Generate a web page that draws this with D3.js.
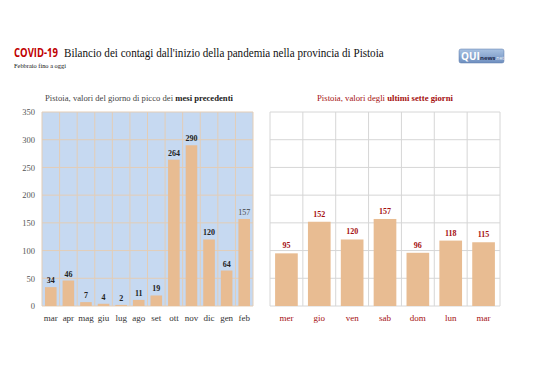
<!DOCTYPE html>
<html><head><meta charset="utf-8">
<script src="https://cdn.jsdelivr.net/npm/d3@7"></script>
<style>body{margin:0;background:#fff}svg{display:block}</style>
</head><body>
<script>
const months = ["mar","apr","mag","giu","lug","ago","set","ott","nov","dic","gen","feb"];
const monthValues = [34,46,7,4,2,11,19,264,290,120,64,157];
const days = ["mer","gio","ven","sab","dom","lun","mar"];
const dayValues = [95,152,120,157,96,118,115];
const yTicks = [0,50,100,150,200,250,300,350];

const W = 538, H = 380;
const svg = d3.select("body").append("svg").attr("width", W).attr("height", H);
const serif = "'Liberation Serif', 'DejaVu Serif', serif";
const sans = "'Open Sans', 'Liberation Sans', sans-serif";

// place a text at (x,y) horizontally scaled so its width equals w; anchor: start|middle
function fitText(parent, x, y, w, anchor){
  const t = parent.append("text").attr("x",0).attr("y",0).attr("text-anchor",anchor||"start");
  t.place = function(){
    const l = t.node().getComputedTextLength();
    const s = l>0 ? w/l : 1;
    t.attr("transform",`translate(${x},${y}) scale(${s},1)`);
    return t;
  };
  return t;
}

// Title
const t1 = fitText(svg,14,57,44).attr("font-family",sans).attr("font-weight","bold")
  .attr("font-size",12).attr("fill","#c00000").text("COVID-19"); t1.place();
const t2 = fitText(svg,64,57,320).attr("font-family",serif)
  .attr("font-size",13).attr("fill","#111").text("Bilancio dei contagi dall'inizio della pandemia nella provincia di Pistoia"); t2.place();
const t3 = fitText(svg,14,68,52).attr("font-family",serif)
  .attr("font-size",6.5).attr("fill","#111").text("Febbraio fino a oggi"); t3.place();

// Logo
const defs = svg.append("defs");
const g = defs.append("linearGradient").attr("id","lg").attr("x1",0).attr("y1",0).attr("x2",0).attr("y2",1);
g.append("stop").attr("offset","0").attr("stop-color","#a9c2e2");
g.append("stop").attr("offset","1").attr("stop-color","#6f8fbf");
svg.append("rect").attr("x",459).attr("y",49).attr("width",45).attr("height",14).attr("rx",2).attr("fill","url(#lg)").attr("stroke","#5b79a8").attr("stroke-width",0.5);
svg.append("text").attr("x",461).attr("y",60).attr("font-family",sans).attr("font-weight","bold").attr("font-size",10).attr("fill","#fff").text("QUI");
svg.append("text").attr("x",480).attr("y",59.5).attr("font-family",sans).attr("font-weight","bold").attr("font-size",6).attr("fill","#1d2b4f").text("news");
svg.append("text").attr("x",495).attr("y",59.5).attr("font-family",sans).attr("font-size",5).attr("fill","#eef3fa").text(".net");

// Shared y scale
const y = d3.scaleLinear().domain([0,350]).range([306,112]);

// ---- Left chart
const L = {x0:42, x1:253};
const xL = d3.scaleBand().domain(months).range([L.x0,L.x1]).paddingInner(0.34).paddingOuter(0.17);
const left = svg.append("g");
left.append("rect").attr("x",L.x0).attr("y",y(350)).attr("width",L.x1-L.x0).attr("height",y(0)-y(350)).attr("fill","#c6d9f1");
const step = xL.step();
left.selectAll("line.v").data(d3.range(months.length+1)).join("line")
  .attr("x1",i=>L.x0+i*step).attr("x2",i=>L.x0+i*step).attr("y1",y(350)).attr("y2",y(0))
  .attr("stroke","#e3cdb6").attr("stroke-width",1);
left.selectAll("line.h").data(yTicks).join("line")
  .attr("x1",L.x0).attr("x2",L.x1).attr("y1",d=>y(d)).attr("y2",d=>y(d))
  .attr("stroke","#e3cdb6").attr("stroke-width",1);
left.selectAll("rect.bar").data(months).join("rect").attr("class","bar")
  .attr("x",d=>xL(d)).attr("width",xL.bandwidth())
  .attr("y",(d,i)=>y(monthValues[i])).attr("height",(d,i)=>y(0)-y(monthValues[i]))
  .attr("fill","#e8bc92");
left.selectAll("text.val").data(months).join("text")
  .attr("x",d=>xL(d)+xL.bandwidth()/2).attr("y",(d,i)=>y(monthValues[i])-4)
  .attr("text-anchor","middle").attr("font-family",serif).attr("font-weight",(d,i)=>i===11?"normal":"bold").attr("font-size",8)
  .attr("fill",(d,i)=>i===11?"#444":"#222").text((d,i)=>monthValues[i]);
// axes
const yAxis = d3.axisLeft(y).tickValues(yTicks).tickSize(0).tickPadding(7);
const ya = left.append("g").attr("transform",`translate(${L.x0},0)`).call(yAxis);
ya.select(".domain").remove();
ya.selectAll("text").attr("font-family",serif).attr("font-size",8.5).attr("fill","#555");
const xAxisL = d3.axisBottom(xL).tickSize(0).tickPadding(9);
const xa = left.append("g").attr("transform",`translate(0,${y(0)})`).call(xAxisL);
xa.select(".domain").remove();
xa.selectAll("text").attr("font-family",serif).attr("font-size",9).attr("fill","#333");

const sl = fitText(left,(42+232)/2+2,101,188,"middle")
  .attr("font-family",serif).attr("font-size",8).attr("fill","#444");
sl.append("tspan").text("Pistoia, valori del giorno di picco dei ");
sl.append("tspan").attr("font-weight","bold").attr("fill","#222").text("mesi precedenti");
sl.place();

// ---- Right chart
const R = {x0:270, x1:500};
const xR = d3.scaleBand().domain(days).range([R.x0,R.x1]).paddingInner(0.31).paddingOuter(0.155);
const right = svg.append("g");
const stepR = xR.step();
right.selectAll("line.v").data(d3.range(days.length+1)).join("line")
  .attr("x1",i=>R.x0+i*stepR).attr("x2",i=>R.x0+i*stepR).attr("y1",y(350)).attr("y2",y(0))
  .attr("stroke","#d6d6d6").attr("stroke-width",1);
right.selectAll("line.h").data(yTicks).join("line")
  .attr("x1",R.x0).attr("x2",R.x1).attr("y1",d=>y(d)).attr("y2",d=>y(d))
  .attr("stroke","#d6d6d6").attr("stroke-width",1);
right.selectAll("rect.bar").data(days).join("rect").attr("class","bar")
  .attr("x",d=>xR(d)).attr("width",xR.bandwidth())
  .attr("y",(d,i)=>y(dayValues[i])).attr("height",(d,i)=>y(0)-y(dayValues[i]))
  .attr("fill","#e8bc92");
right.selectAll("text.val").data(days).join("text")
  .attr("x",d=>xR(d)+xR.bandwidth()/2).attr("y",(d,i)=>y(dayValues[i])-5)
  .attr("text-anchor","middle").attr("font-family",serif).attr("font-weight","bold").attr("font-size",8)
  .attr("fill","#a50f0f").text((d,i)=>dayValues[i]);
const xAxisR = d3.axisBottom(xR).tickSize(0).tickPadding(9);
const xr = right.append("g").attr("transform",`translate(0,${y(0)})`).call(xAxisR);
xr.select(".domain").remove();
xr.selectAll("text").attr("font-family",serif).attr("font-size",9).attr("fill","#a50f0f");

const sr = fitText(right,(317+453)/2,101,136,"middle")
  .attr("font-family",serif).attr("font-size",8).attr("fill","#a50f0f");
sr.append("tspan").text("Pistoia, valori degli ");
sr.append("tspan").attr("font-weight","bold").text("ultimi sette giorni");
sr.place();
</script>
</body></html>
